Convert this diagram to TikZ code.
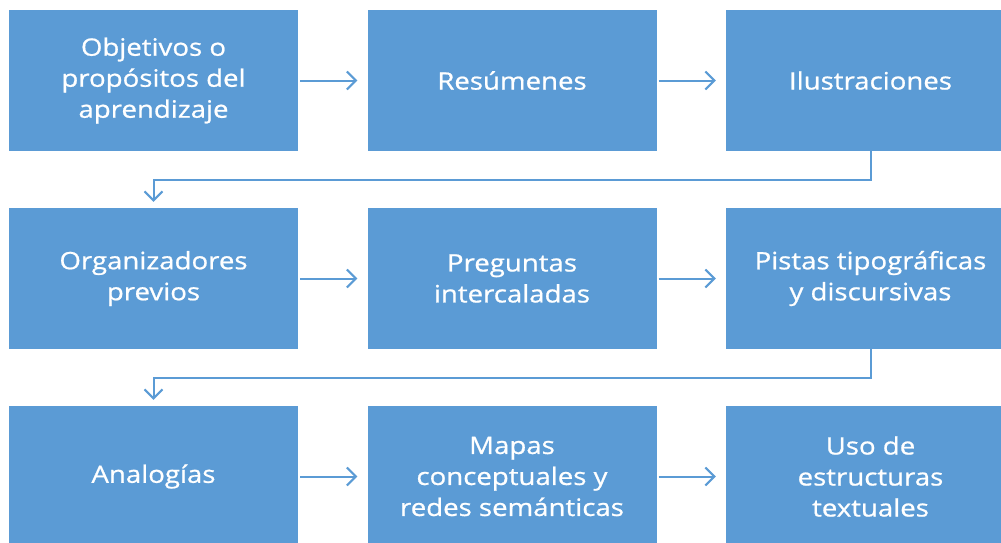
\documentclass[tikz,border=0pt]{standalone}
\usepackage{fontspec}
\setmainfont{Open Sans}[FakeStretch=1.15, FakeBold=0.8, AutoFakeBold=0.8]
\usetikzlibrary{arrows.meta}
\definecolor{azul}{HTML}{5B9BD5}

\begin{document}
\begin{tikzpicture}[x=1pt, y=-1pt,
	caja/.style={fill=azul, text=white, minimum width=289pt, minimum height=141pt, inner sep=0pt, align=center, font=\fontsize{24}{31}\selectfont\bfseries},
	flecha/.style={draw=azul, line width=2pt, -{Straight Barb[length=9pt,width=18pt,line width=2pt]}}]
	\useasboundingbox (0,0) rectangle (1001,542);
	% fila 1
	\node[caja] (obj) at (153.5,80.5) {Objetivos o\\propósitos del\\aprendizaje};
	\node[caja] (res) at (512,80.5) {Resúmenes};
	\node[caja] (ilu) at (870.5,80.5) {Ilustraciones};
	% fila 2
	\node[caja] (org) at (153.5,278.5) {Organizadores\\previos};
	\node[caja] (pre) at (512,278.5) {Preguntas\\intercaladas};
	\node[caja] (pis) at (870.5,278.5) {Pistas tipográficas\\y discursivas};
	% fila 3
	\node[caja] (ana) at (153.5,476.5) {Analogías};
	\node[caja] (map) at (512,476.5) {Mapas\\conceptuales y\\redes semánticas};
	\node[caja] (uso) at (870.5,476.5) {Uso de\\estructuras\\textuales};
	% flechas
	\draw[flecha, shorten <=2pt, shorten >=10pt] (obj) -- (res);
	\draw[flecha, shorten <=2pt, shorten >=10pt] (res) -- (ilu);
	\draw[flecha, shorten >=6pt] (ilu.south) -- ++(0,29) -| (org.north);
	\draw[flecha, shorten <=2pt, shorten >=10pt] (org) -- (pre);
	\draw[flecha, shorten <=2pt, shorten >=10pt] (pre) -- (pis);
	\draw[flecha, shorten >=6pt] (pis.south) -- ++(0,29) -| (ana.north);
	\draw[flecha, shorten <=2pt, shorten >=10pt] (ana) -- (map);
	\draw[flecha, shorten <=2pt, shorten >=10pt] (map) -- (uso);
\end{tikzpicture}
\end{document}
